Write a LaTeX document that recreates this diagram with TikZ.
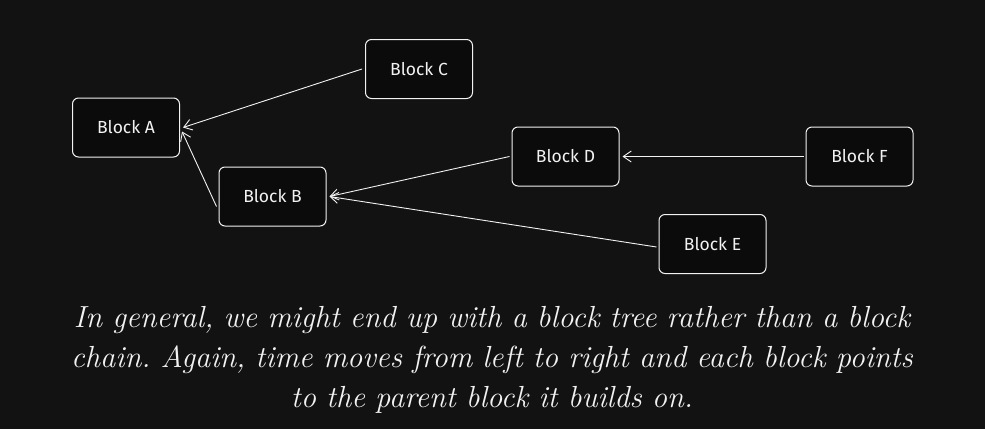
\documentclass[tikz,border=0pt]{standalone}
\usepackage{fontspec}
\newfontfamily\handfont{Fira Sans}
\usetikzlibrary{arrows.meta}
\definecolor{bg}{HTML}{121212}
\definecolor{boxfill}{HTML}{0B0B0B}
\definecolor{ink}{HTML}{F2F2F2}
\begin{document}
\begin{tikzpicture}[x=1pt,y=-1pt,
  blockbox/.style={draw=ink, fill=boxfill, line width=1pt, rounded corners=6pt,
    minimum width=107pt, minimum height=59pt, inner sep=0pt,
    text=ink, font=\handfont\fontsize{17.5}{20}\selectfont},
  link/.style={draw=ink, line width=0.9pt, -{Straight Barb[length=8pt,width=11pt,line width=0.9pt]}}]
\fill[bg] (0,0) rectangle (985,429);
\useasboundingbox (0,0) rectangle (985,429);
\node[blockbox] (A) at (126,127.5) {Block A};
\node[blockbox] (B) at (272.5,196.5) {Block B};
\node[blockbox] (C) at (419,69) {Block C};
\node[blockbox] (D) at (565.5,156.5) {Block D};
\node[blockbox] (E) at (712.5,244) {Block E};
\node[blockbox] (F) at (859.5,156.5) {Block F};
\draw[link] ([xshift=-3pt]C.west) -- ([xshift=3pt]A.east);
\draw[link] ([xshift=-2pt,yshift=-10pt]B.west) -- ([xshift=2pt,yshift=-4pt]A.east);
\draw[link] ([xshift=-2pt]D.west) -- ([xshift=3pt]B.east);
\draw[link] ([xshift=-2pt,yshift=-3pt]E.west) -- ([xshift=3pt]B.east);
\draw[link] ([xshift=-2pt]F.west) -- ([xshift=3pt]D.east);
\node[text=ink, font=\itshape\fontsize{30.5}{40}\selectfont, align=center, text width=960pt, execute at begin node=\frenchspacing] (cap) at (492,360)
  {In general, we might end up with a block tree rather than a block\\chain. Again, time moves from left to right and each block points\\to the parent block it builds on.};
\end{tikzpicture}
\end{document}
